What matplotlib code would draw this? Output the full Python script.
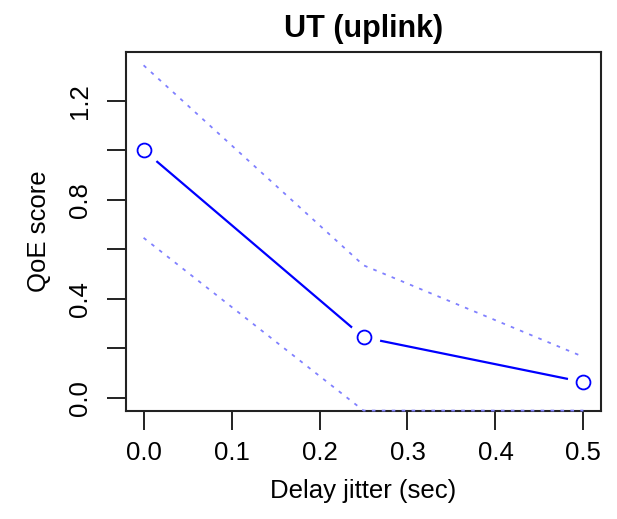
import numpy as np
import matplotlib
matplotlib.use('Agg')
import matplotlib.pyplot as plt

plt.rcParams['font.family'] = ['Liberation Sans', 'DejaVu Sans']

# data
jitter = [0.0, 0.25, 0.5]
qoe = [1.0, 0.244, 0.063]
upper = [1.343, 0.535, 0.165]
lower = [0.646, -0.052, -0.052]

xticks = [0.0, 0.1, 0.2, 0.3, 0.4, 0.5]
yticks = [0.0, 0.2, 0.4, 0.6, 0.8, 1.0, 1.2]
ylabels = ['0.0', '', '0.4', '', '0.8', '', '1.2']

fig = plt.figure(figsize=(6.17, 5.19), dpi=100)
ax = fig.add_axes([126 / 617, 1 - 411 / 519, (601 - 126) / 617, (411 - 52) / 519])

blue = '#0000ff'
light = '#8080ff'

# R type="b": line with gaps around the points
ax.plot(jitter, qoe, color=blue, lw=1.6, zorder=2)
ax.plot(jitter, qoe, ls='none', marker='o', ms=23, mfc='white', mec='none', zorder=3)
ax.plot(jitter, qoe, ls='none', marker='o', ms=10, mfc='none', mec=blue, mew=1.3, zorder=4)

ax.plot(jitter, upper, color=light, lw=1.3, ls=(0, (2, 3.5)), zorder=5)
ax.plot(jitter, lower, color=light, lw=1.3, ls=(0, (2, 3.5)), zorder=5, clip_on=False)

# R style 4% axis extension
xr = max(jitter) - min(jitter)
ax.set_xlim(min(jitter) - 0.04 * xr, max(jitter) + 0.04 * xr)
lo, hi = 0.0, max(upper)
ax.set_ylim(lo - 0.04 * (hi - lo), hi + 0.04 * (hi - lo))

ax.set_xticks(xticks)
ax.set_xticklabels(['%.1f' % v for v in xticks])
ax.set_yticks(yticks)
ax.set_yticklabels(ylabels, rotation=90, va='center')

ax.tick_params(axis='both', length=13.5, width=1.4, labelsize=18.5, color='#222222')
ax.tick_params(axis='x', pad=8)
ax.tick_params(axis='y', pad=11)
for s in ax.spines.values():
    s.set_linewidth(1.5)
    s.set_color('#222222')

ax.set_xlabel('Delay jitter (sec)', fontsize=18.5, labelpad=10)
ax.set_ylabel('QoE score', fontsize=18.5, labelpad=12)
ax.set_title('UT (uplink)', fontsize=22, fontweight='bold', pad=11)

fig.savefig('out.png', dpi=100)
